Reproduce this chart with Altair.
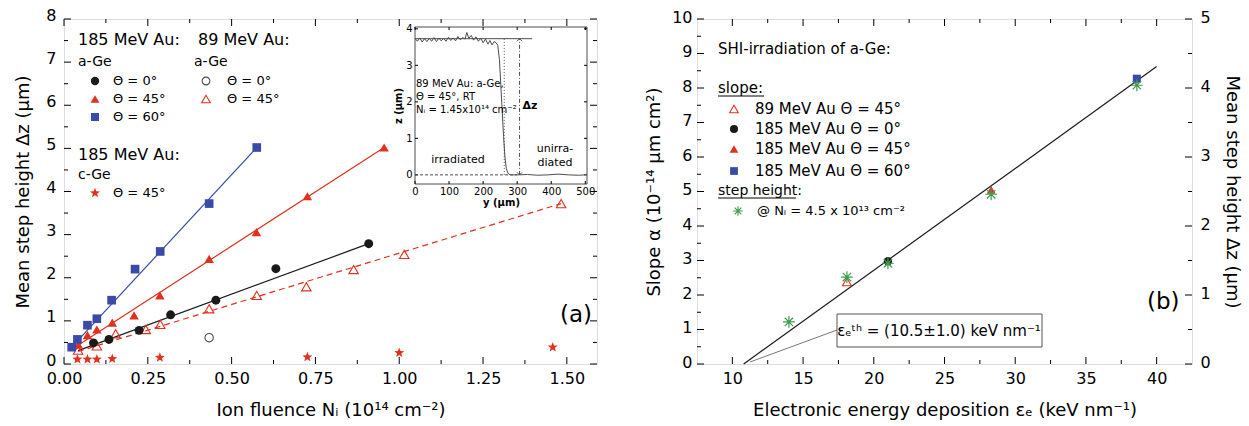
import math
import altair as alt
import pandas as pd

FONT = "DejaVu Sans"
RED = "#e0301e"
BLUE = "#3a4aa8"
GREEN = "#3f9b4f"
DARK = "#1a1a1a"
GRAY = "#4d4d4d"

# ---------------- panel (a) data ----------------
a60_x = [0.023, 0.040, 0.070, 0.098, 0.142, 0.212, 0.287, 0.433, 0.575]
a60_y = [0.39, 0.57, 0.90, 1.05, 1.48, 2.20, 2.61, 3.72, 5.02]
a45_x = [0.043, 0.070, 0.098, 0.144, 0.209, 0.286, 0.433, 0.574, 0.726, 0.955]
a45_y = [0.45, 0.67, 0.80, 0.96, 1.13, 1.59, 2.44, 3.06, 3.89, 5.02]
a0_x = [0.088, 0.134, 0.224, 0.318, 0.453, 0.632, 0.909]
a0_y = [0.49, 0.57, 0.78, 1.14, 1.48, 2.21, 2.79]
a89_45_x = [0.042, 0.098, 0.154, 0.244, 0.287, 0.433, 0.575, 0.723, 0.864, 1.015, 1.483]
a89_45_y = [0.32, 0.42, 0.70, 0.80, 0.92, 1.28, 1.59, 1.79, 2.19, 2.54, 3.72]
a89_0_x = [0.433]
a89_0_y = [0.61]
cge_x = [0.040, 0.070, 0.098, 0.144, 0.286, 0.726, 1.000, 1.458]
cge_y = [0.11, 0.11, 0.11, 0.12, 0.15, 0.16, 0.26, 0.39]

fit60_x = [0.023, 0.575]
fit60_y = [0.39, 5.02]
fit45_x = [0.043, 0.955]
fit45_y = [0.44, 5.02]
fit0_x = [0.042, 0.909]
fit0_y = [0.31, 2.79]
fit89_x = [0.042, 1.483]
fit89_y = [0.29, 3.72]

a_x_major = [0, 0.25, 0.5, 0.75, 1.0, 1.25, 1.5]
a_x_minor = [0.125, 0.375, 0.625, 0.875, 1.125, 1.375]
a_y_major = [0, 1, 2, 3, 4, 5, 6, 7, 8]
a_y_minor = [0.5, 1.5, 2.5, 3.5, 4.5, 5.5, 6.5, 7.5]

# inset profile (y in um, z in um)
prof_y = [0, 7, 14, 21, 28, 35, 42, 49, 56, 63, 70, 77, 84, 91, 98, 105, 112, 119, 126, 133,
          140, 147, 152, 158, 165, 172, 179, 186, 193, 200, 207, 214, 220, 226, 232, 238, 243, 248, 252, 256,
          260, 264, 268, 273, 280, 300, 330, 360, 390, 420, 450, 480, 500]
prof_z = [3.74, 3.66, 3.75, 3.64, 3.73, 3.65, 3.74, 3.66, 3.76, 3.65, 3.75, 3.67, 3.74, 3.66, 3.77, 3.68, 3.75, 3.67, 3.79, 3.70,
          3.76, 3.72, 3.90, 3.74, 3.82, 3.69, 3.78, 3.66, 3.74, 3.62, 3.72, 3.58, 3.68, 3.56, 3.65, 3.62, 3.55, 3.15, 2.45, 1.75,
          1.05, 0.50, 0.18, 0.04, 0.0, 0.0, 0.01, -0.01, 0.0, 0.02, 0.0, -0.01, 0.0]
ref_y = [0, 344]
ref_z = [3.73, 3.73]
dot_y = [262, 262]
dot_z = [0, 3.73]
arr_y = [307, 307]
arr_z = [0, 3.73]
base_y = [0, 300]
base_z = [0, 0]
i_x_major = [0, 100, 200, 300, 400, 500]
i_z_major = [0, 1, 2, 3, 4]
I_X_DOM = [0, 505]
I_Z_DOM = [-0.25, 4.05]

# ---------------- panel (b) data ----------------
b89_x = [18.1]
b89_y = [2.38]
b0_x = [21.0]
b0_y = [2.98]
b45_x = [28.3]
b45_y = [5.05]
b60_x = [38.6]
b60_y = [8.27]
bstep_x = [14.0, 18.1, 21.0, 28.3, 38.6]
bstep_y = [0.61, 1.26, 1.46, 2.46, 4.04]
bfit_x = [10.8, 40.0]
bfit_y = [0.0, 8.62]
b_x_major = [10, 15, 20, 25, 30, 35, 40]
b_x_minor = [12.5, 17.5, 22.5, 27.5, 32.5, 37.5]
b_yl_major = [0, 1, 2, 3, 4, 5, 6, 7, 8, 9, 10]
b_yl_minor = [0.5, 1.5, 2.5, 3.5, 4.5, 5.5, 6.5, 7.5, 8.5, 9.5]
b_yr_major = [0, 1, 2, 3, 4, 5]
b_yr_minor = [0.5, 1.5, 2.5, 3.5, 4.5]

# ---------------- sizes ----------------
WA, HA = 533, 345
WB, HB = 495, 345
IX0, IX1, IY0, IY1 = 351, 523, 8, 165  # inset frame in panel-(a) pixels


def star_path(r_in=0.42):
    pts = []
    for k in range(10):
        ang = math.radians(-90 + 36 * k)
        r = 1 if k % 2 == 0 else r_in
        pts.append(f"{r * math.cos(ang):.3f},{r * math.sin(ang):.3f}")
    return "M" + "L".join(pts) + "Z"


STAR = star_path()
ASTER = "M-1,0L1,0M0,-1L0,1M-0.71,-0.71L0.71,0.71M-0.71,0.71L0.71,-0.71"
CHEV_DOWN = "M-1,-1L0,0L1,-1"
CHEV_UP = "M-1,1L0,0L1,1"
DUMMY = pd.DataFrame({"d": [0]})


def axis(**kw):
    base = dict(ticks=False, domain=False, grid=False, labelFont=FONT, labelColor="black",
                titleFont=FONT, titleColor="black", titleFontWeight="normal",
                labelFlush=False, labelOverlap=False)
    base.update(kw)
    return alt.Axis(**base)


def points(xs, ys, X, Y, shape, size, color, filled=True, sw=1.0):
    df = pd.DataFrame({"x": xs, "y": ys})
    return alt.Chart(df).mark_point(shape=shape, size=size, filled=filled, color=color,
                                    strokeWidth=sw, opacity=1).encode(x=X, y=Y)


def line(xs, ys, X, Y, color, width=1.2, dash=None):
    kw = dict(color=color, strokeWidth=width)
    if dash:
        kw["strokeDash"] = dash
    return alt.Chart(pd.DataFrame({"x": xs, "y": ys})).mark_line(**kw).encode(x=X, y=Y)


def xticks(vals, X, y_bot, y_top, length):
    df = pd.DataFrame({"x": vals})
    b = alt.Chart(df).mark_rule(color="black", strokeWidth=1).encode(
        x=X, y=alt.value(y_bot), y2=alt.value(y_bot - length))
    t = alt.Chart(df).mark_rule(color="black", strokeWidth=1).encode(
        x=X, y=alt.value(y_top), y2=alt.value(y_top + length))
    return [b, t]


def yticks(vals, Y, x_left, x_right, length, left=True, right=True):
    df = pd.DataFrame({"y": vals})
    out = []
    if left:
        out.append(alt.Chart(df).mark_rule(color="black", strokeWidth=1).encode(
            y=Y, x=alt.value(x_left), x2=alt.value(x_left + length)))
    if right:
        out.append(alt.Chart(df).mark_rule(color="black", strokeWidth=1).encode(
            y=Y, x=alt.value(x_right), x2=alt.value(x_right - length)))
    return out


def txt(s, x, y, size=14, align="left", weight="normal", color="black", baseline="middle"):
    return alt.Chart(DUMMY).mark_text(text=s, align=align, baseline=baseline, fontSize=size,
                                      fontWeight=weight, color=color, font=FONT).encode(
        x=alt.value(x), y=alt.value(y))


def sym(x, y, shape, size, color, filled=True, sw=1.0):
    return alt.Chart(DUMMY).mark_point(shape=shape, size=size, filled=filled, color=color,
                                       strokeWidth=sw, opacity=1).encode(x=alt.value(x), y=alt.value(y))


def hrule(x1, x2, y, color="black", width=1.0):
    return alt.Chart(DUMMY).mark_rule(color=color, strokeWidth=width).encode(
        x=alt.value(x1), x2=alt.value(x2), y=alt.value(y))


# ================= panel (a) =================
X_A = alt.X("x:Q", scale=alt.Scale(domain=[0, 1.59], nice=False, zero=False),
            axis=axis(values=a_x_major, format=".2f", labelFontSize=16, labelPadding=6,
                      title="Ion fluence Nᵢ (10¹⁴ cm⁻²)", titleFontSize=18, titlePadding=15))
Y_A = alt.Y("y:Q", scale=alt.Scale(domain=[0, 8], nice=False, zero=False),
            axis=axis(values=a_y_major, format="d", labelFontSize=16, labelPadding=8,
                      labelOffset=-4, title="Mean step height Δz (µm)", titleFontSize=18,
                      titlePadding=13))

main_a = []
main_a += xticks(a_x_major, X_A, HA, 0, 7) + xticks(a_x_minor, X_A, HA, 0, 4)
main_a += yticks(a_y_major, Y_A, 0, WA, 7) + yticks(a_y_minor, Y_A, 0, WA, 4)
main_a += [
    line(fit60_x, fit60_y, X_A, Y_A, BLUE),
    line(fit45_x, fit45_y, X_A, Y_A, RED),
    line(fit0_x, fit0_y, X_A, Y_A, DARK),
    line(fit89_x, fit89_y, X_A, Y_A, RED, dash=[6, 4]),
    points(a89_45_x, a89_45_y, X_A, Y_A, "triangle-up", 90, RED, filled=False, sw=1.1),
    points(a89_0_x, a89_0_y, X_A, Y_A, "circle", 70, GRAY, filled=False, sw=1.1),
    points(a0_x, a0_y, X_A, Y_A, "circle", 80, DARK),
    points(a45_x, a45_y, X_A, Y_A, "triangle-up", 90, RED),
    points(a60_x, a60_y, X_A, Y_A, "square", 75, BLUE),
    points(cge_x, cge_y, X_A, Y_A, STAR, 110, RED),
    # legend
    txt("185 MeV Au:", 14, 21, 16),
    txt("89 MeV Au:", 134, 21, 16),
    txt("a-Ge", 14, 43, 14),
    txt("a-Ge", 130, 43, 14),
    sym(31, 62, "circle", 70, DARK),
    sym(31, 80, "triangle-up", 80, RED),
    sym(31, 98, "square", 65, BLUE),
    txt("Θ = 0°", 49, 62, 13),
    txt("Θ = 45°", 49, 80, 13),
    txt("Θ = 60°", 49, 98, 13),
    sym(142, 62, "circle", 60, GRAY, filled=False, sw=1.1),
    sym(142, 80, "triangle-up", 75, RED, filled=False, sw=1.1),
    txt("Θ = 0°", 163, 62, 13),
    txt("Θ = 45°", 163, 80, 13),
    txt("185 MeV Au:", 14, 136, 16),
    txt("c-Ge", 14, 156, 14),
    sym(31, 174, STAR, 110, RED),
    txt("Θ = 45°", 49, 174, 13),
    txt("(a)", 496, 296, 23),
]
layer_a_main = alt.layer(*main_a)

X_I = alt.X("x:Q", scale=alt.Scale(domain=I_X_DOM, range=[IX0, IX1], nice=False, zero=False),
            axis=axis(orient="bottom", offset=-(HA - IY1), values=i_x_major, format="d",
                      labelFontSize=10, labelPadding=2, title="y (µm)", titleFontSize=10,
                      titleFontWeight="bold", titlePadding=1, zindex=1))
Y_I = alt.Y("y:Q", scale=alt.Scale(domain=I_Z_DOM, range=[IY1, IY0], nice=False, zero=False),
            axis=axis(orient="left", offset=-IX0, values=i_z_major, format="d",
                      labelFontSize=10, labelPadding=3, title="z (µm)", titleFontSize=10,
                      titleFontWeight="bold", titlePadding=2, zindex=1))

frame_df = pd.DataFrame({"x": [I_X_DOM[0]], "x2": [I_X_DOM[1]], "y": [I_Z_DOM[0]], "y2": [I_Z_DOM[1]]})
inset = [
    alt.Chart(frame_df).mark_rect(fill="white", stroke=GRAY, strokeWidth=1).encode(
        x=X_I, x2="x2:Q", y=Y_I, y2="y2:Q"),
]
inset += xticks(i_x_major, X_I, IY1, IY0, 3)
inset += yticks(i_z_major, Y_I, IX0, IX1, 3)
inset += [
    line(ref_y, ref_z, X_I, Y_I, GRAY, width=1),
    line(base_y, base_z, X_I, Y_I, GRAY, width=1, dash=[3, 2]),
    line(dot_y, dot_z, X_I, Y_I, GRAY, width=1, dash=[1, 2]),
    line(arr_y, arr_z, X_I, Y_I, GRAY, width=1, dash=[4, 2, 1, 2]),
    line(prof_y, prof_z, X_I, Y_I, GRAY, width=1),
    points([arr_y[0]], [arr_z[0]], X_I, Y_I, CHEV_DOWN, 25, GRAY, filled=False, sw=1),
    points([arr_y[1]], [arr_z[1]], X_I, Y_I, CHEV_UP, 25, GRAY, filled=False, sw=1),
    txt("89 MeV Au: a-Ge,", IX0 + 1, 65, 10),
    txt("Θ = 45°, RT", IX0 + 1, 78, 10),
    txt("Nᵢ = 1.45x10¹⁴ cm⁻²", IX0 + 1, 91, 10),
    txt("Δz", 466, 87, 11, align="center", weight="bold"),
    txt("irradiated", 394, 141, 11, align="center"),
    txt("unirra-", 491, 130, 11, align="center"),
    txt("diated", 491, 144, 11, align="center"),
]
layer_inset = alt.layer(*inset)

panel_a = alt.layer(layer_a_main, layer_inset).resolve_scale(
    x="independent", y="independent").properties(width=WA, height=HA)

# ================= panel (b) =================
X_B = alt.X("x:Q", scale=alt.Scale(domain=[7.5, 42.5], nice=False, zero=False),
            axis=axis(values=b_x_major, format="d", labelFontSize=16, labelPadding=6,
                      title="Electronic energy deposition εₑ (keV nm⁻¹)", titleFontSize=18,
                      titlePadding=15))
Y_BL = alt.Y("y:Q", scale=alt.Scale(domain=[0, 10], nice=False, zero=False),
             axis=axis(values=b_yl_major, format="d", labelFontSize=16, labelPadding=5,
                       labelOffset=-2, title="Slope α (10⁻¹⁴ µm cm²)", titleFontSize=18,
                       titlePadding=8))
Y_BR = alt.Y("y:Q", scale=alt.Scale(domain=[0, 5], nice=False, zero=False),
             axis=axis(orient="right", values=b_yr_major, format="d", labelFontSize=16,
                       labelPadding=8, labelOffset=-2, title="Mean step height Δz (µm)",
                       titleFontSize=18, titlePadding=12))

main_b = []
main_b += xticks(b_x_major, X_B, HB, 0, 7) + xticks(b_x_minor, X_B, HB, 0, 4)
main_b += yticks(b_yl_major, Y_BL, 0, WB, 7, right=False) + yticks(b_yl_minor, Y_BL, 0, WB, 4, right=False)
main_b += [
    alt.Chart(DUMMY).mark_rule(color="#777777", strokeWidth=1).encode(
        x=alt.value(140), y=alt.value(311), x2=alt.value(53), y2=alt.value(343)),
    alt.Chart(DUMMY).mark_rect(fill="white", stroke="#555555", strokeWidth=1).encode(
        x=alt.value(140), x2=alt.value(345), y=alt.value(295), y2=alt.value(328)),
    txt("εₑᵗʰ = (10.5±1.0) keV nm⁻¹", 242, 312, 15, align="center"),
    line(bfit_x, bfit_y, X_B, Y_BL, DARK),
    points(b89_x, b89_y, X_B, Y_BL, "triangle-up", 80, RED, filled=False, sw=1.1),
    points(b0_x, b0_y, X_B, Y_BL, "circle", 70, DARK),
    points(b45_x, b45_y, X_B, Y_BL, "triangle-up", 80, RED),
    points(b60_x, b60_y, X_B, Y_BL, "square", 65, BLUE),
    # legend
    txt("SHI-irradiation of a-Ge:", 21, 30, 15),
    txt("slope:", 21, 69, 15),
    hrule(21, 67, 77),
    sym(37, 90, "triangle-up", 75, RED, filled=False, sw=1.1),
    sym(37, 110, "circle", 65, DARK),
    sym(37, 130, "triangle-up", 75, RED),
    sym(37, 152, "square", 60, BLUE),
    txt("89 MeV Au Θ = 45°", 58, 90, 15),
    txt("185 MeV Au Θ = 0°", 58, 110, 15),
    txt("185 MeV Au Θ = 45°", 58, 130, 15),
    txt("185 MeV Au Θ = 60°", 58, 152, 15),
    txt("step height:", 21, 172, 14),
    hrule(21, 99, 179),
    sym(41, 192, ASTER, 90, GREEN, filled=False, sw=1.1),
    txt("@ Nᵢ = 4.5 x 10¹³ cm⁻²", 60, 192, 13),
    txt("(b)", 450, 283, 23),
]
layer_b_main = alt.layer(*main_b)

right_b = yticks(b_yr_major, Y_BR, 0, WB, 7, left=False) + yticks(b_yr_minor, Y_BR, 0, WB, 4, left=False)
right_b += [points(bstep_x, bstep_y, X_B, Y_BR, ASTER, 140, GREEN, filled=False, sw=1.2)]
layer_b_right = alt.layer(*right_b)

panel_b = alt.layer(layer_b_main, layer_b_right).resolve_scale(
    y="independent").properties(width=WB, height=HB)

chart = alt.hconcat(panel_a, panel_b, spacing=47).properties(
    padding={"left": 14, "top": 6, "right": 5, "bottom": 5},
    background="white",
).configure_view(stroke="black", strokeWidth=1.2).configure(font=FONT)

chart.save("out.html", embed_options={"renderer": "svg", "actions": False})
